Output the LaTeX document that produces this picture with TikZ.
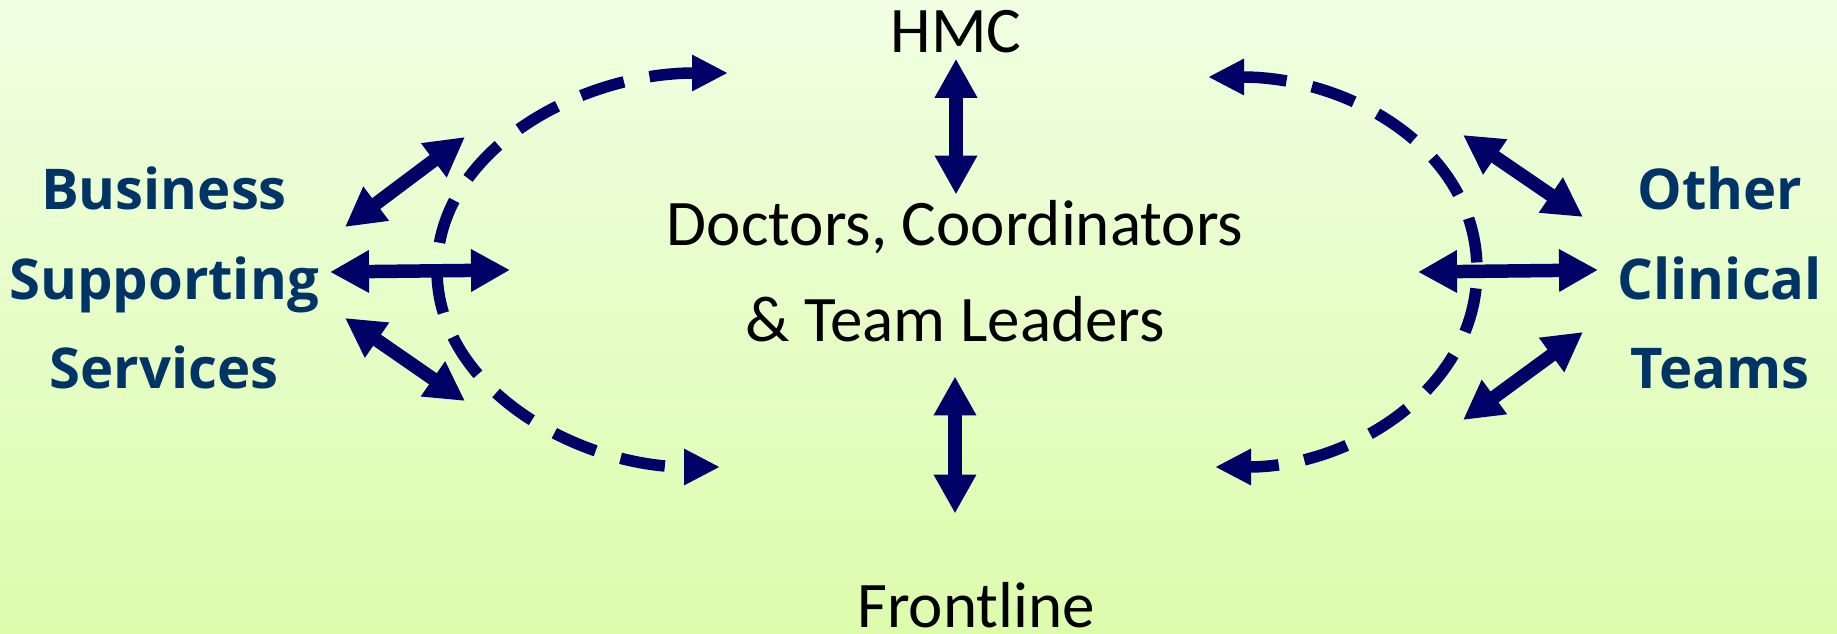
\documentclass[tikz,border=0pt]{standalone}
\usepackage{fontspec}
\setmainfont{Carlito}
\newfontfamily\teamfont{Open Sans}
\usepackage{xcolor}
\definecolor{arrownavy}{RGB}{0, 0, 102}
\definecolor{teamblue}{RGB}{0, 51, 102}
\definecolor{bgtop}{RGB}{240, 255, 226}
\definecolor{bgbottom}{RGB}{221, 252, 172}
\usepackage{tikz}
\usetikzlibrary{arrows.meta}

\tikzset{
  roletext/.style={font=\fontsize{37}{55}\selectfont, text=black, inner sep=0.1cm, align=center},
  teamtext/.style={font=\teamfont\bfseries\fontsize{32}{51}\selectfont, text=teamblue, align=center},
  biarrow/.style={arrownavy, line width=0.27cm,
    {Triangle[length=0.78cm, width=0.8cm]}-{Triangle[length=0.78cm, width=0.8cm]}},
  looparrow/.style={arrownavy, line width=0.23cm, dash pattern=on 0.9cm off 0.52cm,
    {Triangle[length=0.72cm, width=0.68cm]}-{Triangle[length=0.72cm, width=0.68cm]}}
}

\begin{document}
\begin{tikzpicture}[x=0.02cm, y=-0.02cm]
    \useasboundingbox (0,0) rectangle (1837,634);
    \shade[top color=bgtop, bottom color=bgbottom] (0,0) rectangle (1837,634);

    % centre column
    \node[roletext, anchor=base] (hmc) at (956,53) {HMC};
    \node[roletext] (core) at (955,271) {Doctors, Coordinators\\\& Team Leaders};
    \node[roletext, anchor=base] (front) at (976,628) {Frontline};

    % side groups
    \node[teamtext] (bss) at (164,278) {Business\\Supporting\\Services};
    \node[teamtext] (oct) at (1720,278) {Other\\Clinical\\Teams};

    \draw[biarrow] (hmc.south) -- (hmc.south |- core.north);
    \draw[biarrow, shorten <=0.58cm, shorten >=1.28cm] (core.south) -- (core.south |- front.north);

    % ends of the side arrows
    \coordinate (bssUp) at (345,227);   \coordinate (loopUp) at (465,137);
    \coordinate (bssMid) at (330,272);  \coordinate (loopMid) at (510,270);
    \coordinate (bssLow) at (345,318);  \coordinate (loopLow) at (465,401);
    \coordinate (octUp) at (1583,217);  \coordinate (ringUp) at (1463,135);
    \coordinate (octMid) at (1598,270); \coordinate (ringMid) at (1418,272);
    \coordinate (octLow) at (1583,332); \coordinate (ringLow) at (1463,420);

    \draw[biarrow] (bssUp) -- (loopUp);
    \draw[biarrow] (bssMid) -- (loopMid);
    \draw[biarrow] (bssLow) -- (loopLow);
    \draw[biarrow] (octUp) -- (ringUp);
    \draw[biarrow] (octMid) -- (ringMid);
    \draw[biarrow] (octLow) -- (ringLow);

    % dashed loops round the centre
    \coordinate (hmcL) at (728,73);   \coordinate (frontL) at (720,467);
    \coordinate (hmcR) at (1208,77);  \coordinate (frontR) at (1215,467);
    \coordinate (bendL) at (437,270); \coordinate (bendR) at (1477,270);

    \draw[looparrow] (hmcL) .. controls (580,73) and (437,150) .. (bendL)
        .. controls (437,390) and (580,467) .. (frontL);
    \draw[looparrow] (hmcR) .. controls (1350,77) and (1477,150) .. (bendR)
        .. controls (1477,390) and (1350,467) .. (frontR);
\end{tikzpicture}
\end{document}
